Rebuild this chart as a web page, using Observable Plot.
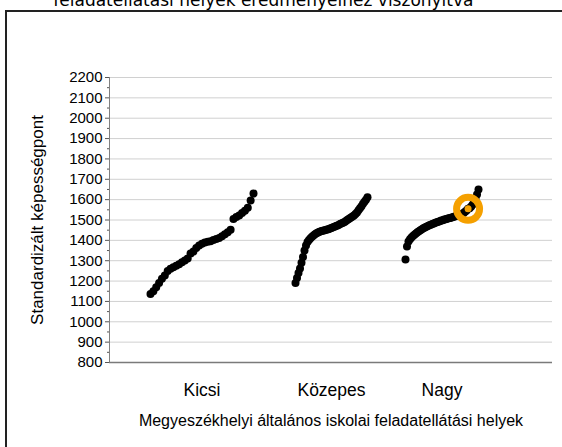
<!DOCTYPE html>
<html><head><meta charset="utf-8">
<script src="https://cdn.jsdelivr.net/npm/d3@7"></script>
<script src="https://cdn.jsdelivr.net/npm/@observablehq/plot@0.6"></script>
<style>
html,body{margin:0;padding:0;background:#fff;overflow:hidden;width:562px;height:447px;}
#wrap{position:relative;width:562px;height:447px;overflow:hidden;}
#box{position:absolute;left:5px;top:10px;width:620px;height:520px;border-left:2px solid #222;border-top:2px solid #222;box-sizing:border-box;}
#chart{position:absolute;left:0;top:0;}
</style></head><body>
<div id="wrap"><div id="box"></div><div id="chart"></div></div>
<script>
const titleText = "feladatellátási helyek eredményeihez viszonyítva";
const categories = ["Kicsi", "Közepes", "Nagy"];
const kicsi = [1137,1150,1170,1190,1211,1227,1250,1260,1268,1275,1283,1292,1301,1311,1335,1345,1362,1375,1383,1389,1393,1396,1402,1407,1412,1420,1430,1440,1452,1505,1515,1522,1535,1545,1560,1596,1630];
const kozepes = [1191,1215,1240,1262,1290,1318,1350,1375,1392,1402,1410,1418,1424,1430,1435,1439,1442,1445,1447,1449,1451,1453,1455,1458,1461,1464,1467,1470,1473,1477,1481,1484,1488,1492,1497,1502,1507,1512,1517,1522,1530,1537,1548,1558,1568,1580,1590,1600,1612];
const nagy = [1306,1370,1395,1405,1414,1421,1428,1434,1440,1445,1450,1455,1459,1463,1467,1471,1474,1477,1480,1483,1486,1489,1492,1494,1497,1499,1502,1504,1506,1508,1510,1512,1515,1517,1520,1522,1525,1528,1531,1535,1540,1547,1555,1558,1565,1575,1590,1605,1625,1650];
const groupStart = [41, 186, 296];
const groupEnd = [144, 258, 369];
const highlightGroup = "Nagy";
const highlightIndex = 42;
const yTicks = d3.range(800, 2201, 100);
const yMinor = d3.range(850, 2200, 100);
const yLabel = "Standardizált képességpont";
const xLabel = "Megyeszékhelyi általános iskolai feladatellátási helyek";

const series = [kicsi, kozepes, nagy];
const rows = [];
series.forEach((vals, g) => {
  const n = vals.length;
  vals.forEach((v, i) => {
    rows.push({group: categories[g], i, x: groupStart[g] + i * (groupEnd[g] - groupStart[g]) / (n - 1), value: v});
  });
});
const hi = rows.filter(d => d.group === highlightGroup && d.i === highlightIndex);
const labels = categories.map((c, g) => ({label: c, x: (groupStart[g] + groupEnd[g]) / 2}));

const chart = Plot.plot({
  width: 562, height: 447,
  marginLeft: 109, marginRight: 10, marginTop: 77, marginBottom: 85,
  style: {background: "transparent", fontFamily: "'Liberation Sans', Arial, sans-serif", color: "#000"},
  x: {domain: [0, 443], axis: null},
  y: {domain: [800, 2200], axis: null},
  marks: [
    Plot.gridY(yTicks.slice(1), {stroke: "#d0d0d0", strokeOpacity: 1}),
    Plot.ruleX([0], {stroke: "#808080"}),
    Plot.ruleY([800], {stroke: "#7a7a7a", strokeWidth: 1.5}),
    Plot.axisY({ticks: yTicks, tickSize: 4, tickPadding: 3, fontSize: 15, tickFormat: "d", label: null, stroke: "#555"}),
    Plot.axisY({ticks: yMinor, tickSize: 2, tickFormat: () => "", label: null, stroke: "#555"}),
    Plot.dot(rows, {x: "x", y: "value", r: 4, fill: "#000"}),
    Plot.dot(hi, {x: "x", y: "value", r: 11.5, stroke: "#f5a000", strokeWidth: 7, fill: "none"}),
    Plot.dot(hi, {x: "x", y: "value", r: 3.5, fill: "#f5a000"}),
    Plot.text(labels, {x: "x", text: "label", frameAnchor: "bottom", dy: 33, fontSize: 17.5}),
    Plot.text([xLabel], {frameAnchor: "bottom", dy: 63, fontSize: 16}),
    Plot.text([yLabel], {frameAnchor: "left", textAnchor: "middle", rotate: -90, dx: -72, fontSize: 17}),
    Plot.text([titleText], {frameAnchor: "top-left", textAnchor: "end", lineAnchor: "bottom", dx: 364, dy: -72, fontSize: 17, fontFamily: "'DejaVu Sans', sans-serif"})
  ]
});
document.getElementById("chart").appendChild(chart);
</script>
</body></html>
